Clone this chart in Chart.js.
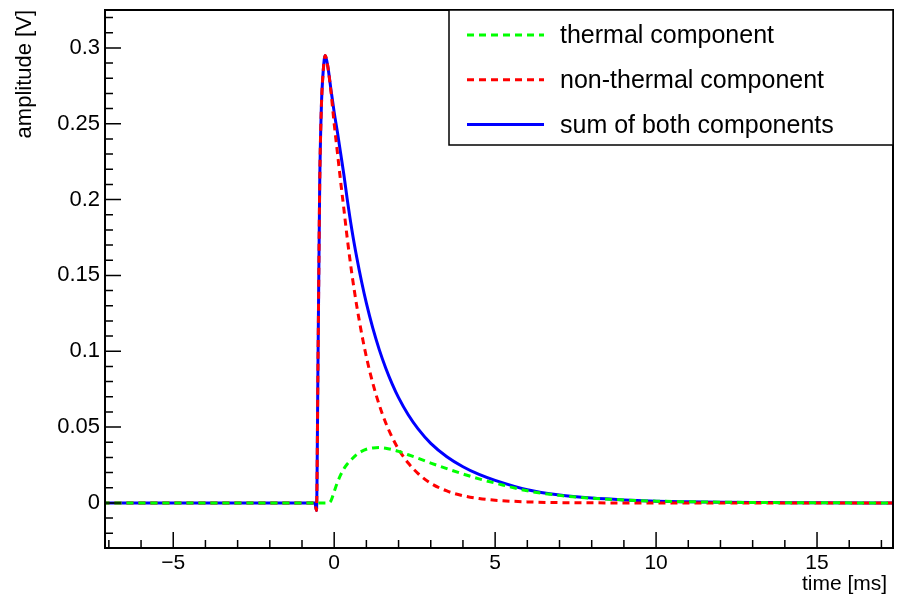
<!DOCTYPE html>
<html lang="en">
<head>
<meta charset="UTF-8">
<title>Signal components</title>
<script src="https://cdn.jsdelivr.net/npm/chart.js@4.4.0/dist/chart.umd.min.js"></script>
<style>
  html, body { margin: 0; padding: 0; background: #fff; }
  #wrap { width: 897px; height: 604px; }
</style>
</head>
<body>
<div id="wrap"><canvas id="chart"></canvas></div>
<script>
// time axis [ms], shared by all three curves
const time = [-7.2, -0.6, -0.55, -0.5, -0.45, -0.4, -0.34, -0.28, -0.2, -0.1,
  0, 0.1, 0.2, 0.3, 0.4, 0.55, 0.7, 0.85, 1.0, 1.2,
  1.4, 1.6, 1.8, 2.0, 2.3, 2.6, 3.0, 3.5, 4.0, 4.5,
  5.0, 6.0, 7.0, 8.0, 9.0, 10, 11, 12, 13, 14, 15, 17.4];

// amplitudes [V]
const thermal = [0, 0, 0, 0, 0, 0, 0, 0, 0, 0.0015,
  0.0075, 0.0135, 0.0185, 0.0225, 0.0255, 0.029, 0.032, 0.034, 0.0354, 0.0363,
  0.0365, 0.0361, 0.0352, 0.034, 0.0318, 0.0295, 0.0263, 0.0226, 0.0191, 0.0159,
  0.0131, 0.008, 0.005, 0.0031, 0.002, 0.0012, 0.0008, 0.0005, 0.0003, 0.0002, 0.0001, 0];

const nonThermal = [0, 0, -0.005, 0.10, 0.21, 0.26, 0.285, 0.295, 0.288, 0.271,
  0.25, 0.231, 0.212, 0.194, 0.1755, 0.151, 0.13, 0.112, 0.0963, 0.0789,
  0.0646, 0.0529, 0.0433, 0.0354, 0.0263, 0.0195, 0.013, 0.0079, 0.0048, 0.0029,
  0.0018, 0.0007, 0.0002, 0.0001, 0, 0, 0, 0, 0, 0, 0, 0];

const total = [0, 0, -0.005, 0.10, 0.21, 0.26, 0.285, 0.295, 0.288, 0.2725,
  0.2575, 0.2445, 0.2305, 0.2165, 0.201, 0.18, 0.162, 0.146, 0.1317, 0.1152,
  0.1011, 0.089, 0.0785, 0.0694, 0.0581, 0.049, 0.0393, 0.0305, 0.0239, 0.0188,
  0.0149, 0.0087, 0.0052, 0.0032, 0.002, 0.0012, 0.0008, 0.0005, 0.0003, 0.0002, 0.0001, 0];

const labels = ['thermal component', 'non-thermal component', 'sum of both components'];

const xTickValues = [-5, 0, 5, 10, 15];
const yTickValues = [0, 0.05, 0.1, 0.15, 0.2, 0.25, 0.3];

const X_MIN = -7.12, X_MAX = 17.36, X_MINOR = 1;
const Y_MIN = -0.0297, Y_MAX = 0.325, Y_MINOR = 0.01;

const FONT = 'Liberation Sans, Arial, Helvetica, sans-serif';
Chart.defaults.font.family = FONT;
Chart.defaults.color = '#000';

function pts(ys) {
  return time.map((t, i) => ({ x: t, y: ys[i] }));
}

function noPadding(s) {
  s.paddingTop = s.paddingBottom = s.paddingLeft = s.paddingRight = 0;
}

// ROOT-like frame with inward ticks, plus boxed legend
const frame = {
  id: 'frame',
  afterDatasetsDraw(chart) {
    const { ctx, chartArea: a, scales: { x, y } } = chart;
    ctx.save();
    ctx.strokeStyle = '#000';
    ctx.lineWidth = 1.5;
    ctx.beginPath();
    for (let i = Math.ceil(x.min / X_MINOR); i * X_MINOR <= x.max + 1e-9; i++) {
      const px = x.getPixelForValue(i * X_MINOR);
      const len = i % 5 === 0 ? 16 : 8;
      ctx.moveTo(px, a.bottom);
      ctx.lineTo(px, a.bottom - len);
    }
    for (let i = Math.ceil(y.min / Y_MINOR - 1e-9); i * Y_MINOR <= y.max + 1e-9; i++) {
      const py = y.getPixelForValue(i * Y_MINOR);
      const len = i % 5 === 0 ? 16 : 8;
      ctx.moveTo(a.left, py);
      ctx.lineTo(a.left + len, py);
    }
    ctx.stroke();
    ctx.lineWidth = 2;
    ctx.strokeRect(a.left, a.top, a.right - a.left, a.bottom - a.top);
    ctx.restore();
  },
  afterDraw(chart) {
    const { ctx, chartArea: a } = chart;
    const box = { left: 449, top: a.top, right: a.right, bottom: 145 };
    ctx.save();
    ctx.fillStyle = '#fff';
    ctx.fillRect(box.left, box.top, box.right - box.left, box.bottom - box.top);
    ctx.strokeStyle = '#000';
    ctx.lineWidth = 1.5;
    ctx.strokeRect(box.left, box.top, box.right - box.left, box.bottom - box.top);
    ctx.font = '25px ' + FONT;
    ctx.textBaseline = 'alphabetic';
    ctx.textAlign = 'left';
    chart.data.datasets.forEach((ds, i) => {
      const base = box.top + 33 + i * 44.75;
      ctx.strokeStyle = ds.borderColor;
      ctx.lineWidth = ds.borderWidth;
      ctx.setLineDash(ds.borderDash || []);
      ctx.beginPath();
      ctx.moveTo(467, base - 8);
      ctx.lineTo(544, base - 8);
      ctx.stroke();
      ctx.setLineDash([]);
      ctx.fillStyle = '#000';
      ctx.fillText(ds.label, 560, base);
    });
    ctx.restore();
  }
};

const ctx = document.getElementById('chart').getContext('2d');
new Chart(ctx, {
  type: 'line',
  data: {
    datasets: [
      { label: labels[0], data: pts(thermal), borderColor: '#00ff00', borderWidth: 3, borderDash: [7, 5] },
      { label: labels[1], data: pts(nonThermal), borderColor: '#ff0000', borderWidth: 3, borderDash: [7, 5] },
      { label: labels[2], data: pts(total), borderColor: '#0000ff', borderWidth: 3 }
    ]
  },
  options: {
    responsive: true,
    maintainAspectRatio: false,
    animation: false,
    devicePixelRatio: 1,
    layout: { padding: { top: 10, right: 4, left: 0, bottom: 0 } },
    elements: {
      point: { radius: 0 },
      line: { cubicInterpolationMode: 'monotone', fill: false, borderCapStyle: 'butt' }
    },
    plugins: {
      legend: { display: false },
      tooltip: { enabled: false }
    },
    scales: {
      x: {
        type: 'linear',
        min: X_MIN,
        max: X_MAX,
        grid: { display: false, drawTicks: false },
        border: { display: false },
        afterBuildTicks: s => { s.ticks = xTickValues.map(v => ({ value: v })); },
        afterFit: s => { s.height = 56; noPadding(s); },
        ticks: {
          padding: 3,
          maxRotation: 0,
          font: { size: 21 },
          callback: v => String(v).replace('-', '\u2212')
        },
        title: {
          display: true,
          text: 'time [ms]\u00a0',
          align: 'end',
          font: { size: 21 },
          padding: { top: 0, bottom: 7 }
        }
      },
      y: {
        type: 'linear',
        min: Y_MIN,
        max: Y_MAX,
        grid: { display: false, drawTicks: false },
        border: { display: false },
        afterBuildTicks: s => { s.ticks = yTickValues.map(v => ({ value: v })); },
        afterFit: s => { s.width = 105; noPadding(s); },
        ticks: {
          padding: 5,
          font: { size: 22 },
          callback: v => String(+v.toFixed(3))
        },
        title: {
          display: true,
          text: 'amplitude [V]',
          align: 'end',
          font: { size: 22 },
          padding: { top: 12, bottom: 0 }
        }
      }
    }
  },
  plugins: [frame]
});
</script>
</body>
</html>
